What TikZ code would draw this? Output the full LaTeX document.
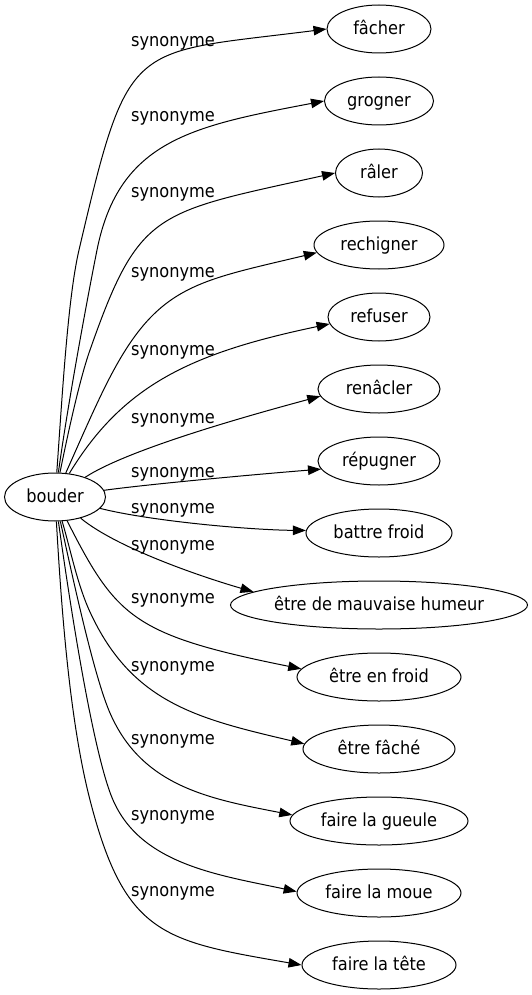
\documentclass[tikz,border=0pt]{standalone}
\usepackage{fontspec}
\setmainfont{DejaVu Sans}[FakeStretch=0.9]
\usetikzlibrary{arrows.meta,shapes.geometric}
\begin{document}
\begin{tikzpicture}[x=1pt,y=-1pt,
  ell/.style={draw, ellipse, line width=1pt, minimum height=48pt, inner sep=0pt,
    text height=13pt, text depth=1.5pt, font=\fontsize{18}{20}\selectfont},
  lbl/.style={anchor=base, inner sep=0pt, font=\fontsize{18}{20}\selectfont},
  edge/.style={line width=1pt, -{Triangle[length=13pt,width=9.5pt]}}]
\useasboundingbox (0,0) rectangle (532,995);
% nodes
\node[ell, minimum width=101pt] (bouder) at (55,497) {bouder};
\node[ell, minimum width=104pt] (facher) at (379,29) {fâcher};
\node[ell, minimum width=109pt] (grogner) at (379,101) {grogner};
\node[ell, minimum width=87pt] (raler) at (379,173) {râler};
\node[ell, minimum width=130pt] (rechigner) at (379,245) {rechigner};
\node[ell, minimum width=102pt] (refuser) at (379,317) {refuser};
\node[ell, minimum width=122pt] (renacler) at (379,389) {renâcler};
\node[ell, minimum width=122pt] (repugner) at (379,461) {répugner};
\node[ell, minimum width=146pt] (battre) at (379,533) {battre froid};
\node[ell, minimum width=297pt] (humeur) at (379,605) {être de mauvaise humeur};
\node[ell, minimum width=164pt] (enfroid) at (379,677) {être en froid};
\node[ell, minimum width=152pt] (fache) at (379,749) {être fâché};
\node[ell, minimum width=178pt] (gueule) at (379,821) {faire la gueule};
\node[ell, minimum width=164pt] (moue) at (379,893) {faire la moue};
\node[ell, minimum width=154pt] (tete) at (379,965) {faire la tête};
% labels
\node[lbl] (l1) at (173,47) {synonyme};
\node[lbl] (l2) at (173,122) {synonyme};
\node[lbl] (l3) at (173,197.5) {synonyme};
\node[lbl] (l4) at (173,277) {synonyme};
\node[lbl] (l5) at (173,355.5) {synonyme};
\node[lbl] (l6) at (173,423) {synonyme};
\node[lbl] (l7) at (173,477.5) {synonyme};
\node[lbl] (l8) at (173,513) {synonyme};
\node[lbl] (l9) at (173,550) {synonyme};
\node[lbl] (l10) at (173,603.5) {synonyme};
\node[lbl] (l11) at (173,671) {synonyme};
\node[lbl] (l12) at (173,744) {synonyme};
\node[lbl] (l13) at (173,820) {synonyme};
\node[lbl] (l14) at (173,896) {synonyme};
% edges
\draw[edge] (bouder) .. controls (62,400) and (67.6,298.7) .. (79,250) .. controls (129.2,35.7) and (129,54.2) .. (facher.west);
\draw[edge] (bouder) .. controls (68,403) and (87,300) .. (97,250) .. controls (119,140) and (193,126) .. (grogner.west);
\draw[edge] (bouder) .. controls (68,433) and (80,378) .. (90,350) .. controls (139.5,209) and (155,213) .. (raler.west);
\draw[edge] (bouder) .. controls (79,443.5) and (93.5,409.7) .. (107,383) .. controls (156.5,285) and (195,281.8) .. (rechigner.187);
\draw[edge] (bouder) .. controls (123,385) and (191,353) .. (refuser.188);
\draw[edge] (bouder) .. controls (130,448) and (260,412.5) .. (renacler.187);
\draw[edge] (bouder) .. controls (150,484) and (260,474) .. (repugner.188);
\draw[edge] (bouder) .. controls (150,521) and (250,530) .. (battre.178);
\draw[edge] (bouder) .. controls (118,549) and (207,578.5) .. (humeur.174);
\draw[edge] (bouder) .. controls (116.5,617.9) and (133.4,635) .. (enfroid.174);
\draw[edge] (bouder) .. controls (71,551.4) and (77.4,584.7) .. (90,612) .. controls (132,703) and (197.3,718.7) .. (fache.176);
\draw[edge] (bouder) .. controls (73.4,580.8) and (94,676.2) .. (110,713) .. controls (142,786.6) and (209.7,798.9) .. (gueule.176);
\draw[edge] (bouder) .. controls (69.6,602) and (93,754) .. (113,800) .. controls (141,864.4) and (218.6,875) .. (moue.179);
\draw[edge] (bouder) .. controls (61.6,613) and (70,722.4) .. (90,800) .. controls (125,935.8) and (164,941.2) .. (tete.180);
\end{tikzpicture}
\end{document}
